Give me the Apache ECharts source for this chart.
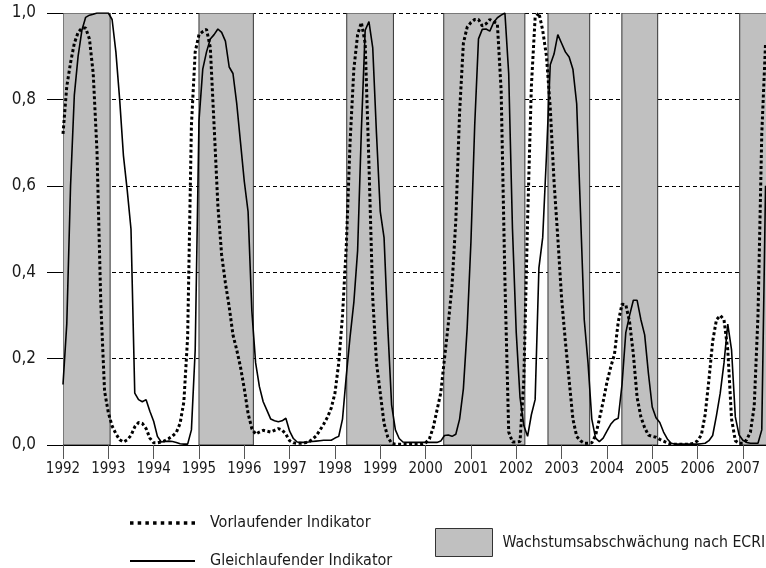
<!DOCTYPE html>
<html><head><meta charset="utf-8">
<script src="https://cdn.jsdelivr.net/npm/echarts@6/dist/echarts.min.js"></script>
<style>html,body{margin:0;padding:0;background:#fff}#c{width:766px;height:568px}</style>
</head><body><div id="c"></div>
<script>
// Monthly series, first value = January 1992
const startYear = 1992;
const yearTicks = [1992,1993,1994,1995,1996,1997,1998,1999,2000,2001,2002,2003,2004,2005,2006,2007];

const leadName = 'Vorlaufender Indikator';
const coinName = 'Gleichlaufender Indikator';
const slowName = 'Wachstumsabschwächung nach ECRI';

const leadValues = [
  0.72,0.83,0.885,0.93,0.955,0.965,0.965,0.94,0.86,0.68,0.33,0.125,
  0.075,0.044,0.026,0.012,0.007,0.012,0.022,0.042,0.052,0.05,0.038,0.016,
  0.005,0.005,0.007,0.01,0.015,0.021,0.029,0.05,0.1,0.25,0.74,0.91,
  0.95,0.957,0.962,0.92,0.74,0.555,0.44,0.375,0.32,0.255,0.22,0.18,
  0.13,0.073,0.038,0.025,0.03,0.034,0.032,0.03,0.034,0.038,0.035,0.025,
  0.01,0.005,0.004,0.004,0.005,0.007,0.013,0.021,0.034,0.048,0.064,0.085,
  0.12,0.19,0.30,0.46,0.70,0.87,0.95,0.978,0.93,0.65,0.34,0.19,
  0.12,0.05,0.018,0.004,0.002,0.002,0.002,0.002,0.002,0.002,0.002,0.002,
  0.005,0.014,0.04,0.08,0.12,0.2,0.28,0.37,0.52,0.77,0.93,0.967,
  0.978,0.985,0.985,0.97,0.975,0.985,0.98,0.975,0.82,0.38,0.03,0.007,
  0.007,0.008,0.15,0.52,0.83,0.99,1.0,0.96,0.90,0.78,0.61,0.48,
  0.34,0.24,0.15,0.06,0.02,0.01,0.004,0.004,0.005,0.022,0.06,0.10,
  0.145,0.18,0.21,0.285,0.326,0.325,0.285,0.21,0.11,0.065,0.04,0.023,
  0.02,0.018,0.013,0.009,0.005,0.002,0.002,0.002,0.002,0.002,0.002,0.004,
  0.01,0.023,0.07,0.15,0.24,0.29,0.30,0.29,0.22,0.06,0.01,0.004,
  0.004,0.012,0.03,0.09,0.30,0.72,0.93
];

const coinValues = [
  0.14,0.28,0.60,0.81,0.90,0.96,0.99,0.995,0.997,1.0,1.0,1.0,
  1.0,0.985,0.91,0.80,0.67,0.59,0.50,0.12,0.105,0.10,0.105,0.078,
  0.055,0.02,0.007,0.008,0.009,0.008,0.006,0.003,0.002,0.002,0.035,0.22,
  0.75,0.87,0.91,0.94,0.95,0.963,0.955,0.935,0.875,0.86,0.79,0.70,
  0.61,0.54,0.31,0.19,0.135,0.10,0.08,0.06,0.056,0.054,0.056,0.062,
  0.032,0.015,0.007,0.006,0.006,0.007,0.008,0.009,0.01,0.011,0.011,0.011,
  0.016,0.02,0.06,0.16,0.25,0.33,0.45,0.73,0.96,0.98,0.92,0.72,
  0.54,0.48,0.27,0.093,0.035,0.015,0.007,0.006,0.006,0.006,0.006,0.006,
  0.006,0.006,0.006,0.006,0.009,0.022,0.023,0.02,0.025,0.06,0.13,0.27,
  0.47,0.74,0.94,0.962,0.963,0.958,0.978,0.989,0.995,1.0,0.86,0.50,
  0.26,0.11,0.045,0.02,0.07,0.105,0.41,0.48,0.67,0.88,0.905,0.95,
  0.93,0.91,0.898,0.87,0.79,0.54,0.29,0.19,0.06,0.016,0.008,0.016,
  0.032,0.048,0.058,0.062,0.14,0.26,0.30,0.335,0.335,0.29,0.255,0.165,
  0.088,0.063,0.052,0.03,0.014,0.004,0.002,0.002,0.002,0.002,0.002,0.002,
  0.002,0.003,0.004,0.01,0.022,0.068,0.12,0.19,0.28,0.22,0.065,0.023,
  0.011,0.006,0.004,0.004,0.004,0.035,0.60
];

// ECRI growth slowdown phases (decimal years)
const slowdownStarts = [1992.0, 1995.0, 1998.26, 2000.40, 2002.70, 2004.33, 2006.93];
const slowdownEnds   = [1993.04, 1996.20, 1999.29, 2002.19, 2003.62, 2005.12, 2007.70];

const xMin = 1992, xMax = 2007.51;
const FONT = "'DejaVu Sans Condensed', 'DejaVu Sans', sans-serif";
const TEXT = '#1a1a1a';
const regionStyle = {color: '#c0c0c0', borderColor: '#333', borderWidth: 1};

// legend icon: row of 9 square dots in a 65 x 3.5 box
const dotIcon = 'path://' + Array.from({length: 9}, (_, i) => {
  const x = (i * 7.6875).toFixed(3);
  return 'M' + x + ',0h3.5v3.5h-3.5z';
}).join('');

const monthX = i => startYear + i / 12;
const leadData = leadValues.map((v, i) => [monthX(i), v]);
const coinData = coinValues.map((v, i) => [monthX(i), v]);
const regionData = slowdownStarts.map((s, i) => [s, slowdownEnds[i]]);

const legendText = size => ({fontSize: size, color: TEXT, fontFamily: FONT, padding: [0, 0, 0, 10]});

const chart = echarts.init(document.getElementById('c'), null, {renderer: 'canvas'});
chart.setOption({
  animation: false,
  backgroundColor: '#fff',
  textStyle: {fontFamily: FONT, color: TEXT},
  grid: {left: 63, right: 0, top: 13, bottom: 123, containLabel: false},
  xAxis: {
    type: 'value', min: xMin, max: xMax,
    axisLine: {show: true, lineStyle: {color: '#000', width: 1}},
    axisTick: {show: true, length: 14, customValues: yearTicks, lineStyle: {color: '#555', width: 1}},
    axisLabel: {customValues: yearTicks, formatter: v => String(Math.round(v)), fontSize: 15, color: TEXT, margin: 17, fontFamily: FONT},
    splitLine: {show: false}
  },
  yAxis: {
    type: 'value', min: 0, max: 1, interval: 0.2,
    axisLine: {show: false},
    axisTick: {show: true, inside: false, length: 16, lineStyle: {color: '#000', width: 1}},
    axisLabel: {formatter: v => v.toFixed(1).replace('.', ','), fontSize: 17, color: TEXT, margin: 27, fontFamily: FONT},
    splitLine: {show: true, lineStyle: {color: '#000', width: 1, type: [4, 3]}}
  },
  legend: [
    {
      data: [{name: leadName, icon: dotIcon}], left: 125, top: 510,
      itemWidth: 65, itemHeight: 3.5, selectedMode: false,
      itemStyle: {color: '#000', borderWidth: 0},
      textStyle: legendText(16)
    },
    {
      data: [{name: coinName, icon: 'rect'}], left: 125, top: 548,
      itemWidth: 65, itemHeight: 2, selectedMode: false,
      itemStyle: {color: '#000', borderWidth: 0},
      textStyle: legendText(16)
    },
    {
      data: [{name: slowName, icon: 'rect', itemStyle: regionStyle}], left: 430, top: 523,
      itemWidth: 57, itemHeight: 28, selectedMode: false,
      textStyle: {fontSize: 15.7, color: TEXT, fontFamily: FONT, padding: [0, 0, 0, 5]}
    }
  ],
  series: [
    {
      name: slowName, type: 'custom', data: regionData, clip: true, z: 1,
      encode: {x: [0, 1]},
      itemStyle: regionStyle,
      renderItem: (params, api) => {
        const p0 = api.coord([api.value(0), 1]);
        const p1 = api.coord([api.value(1), 0]);
        return {
          type: 'rect',
          shape: {x: p0[0], y: p0[1], width: p1[0] - p0[0], height: p1[1] - p0[1]},
          style: {fill: regionStyle.color, stroke: regionStyle.borderColor, lineWidth: regionStyle.borderWidth}
        };
      }
    },
    {
      name: coinName, type: 'line', data: coinData, symbol: 'none', showSymbol: false, z: 3,
      lineStyle: {color: '#000', width: 1.6}, itemStyle: {color: '#000'}
    },
    {
      name: leadName, type: 'line', data: leadData, symbol: 'none', showSymbol: false, z: 4,
      lineStyle: {color: '#000', width: 3, type: [3, 2.5], cap: 'butt'}, itemStyle: {color: '#000'}
    }
  ]
});
</script>
</body></html>
